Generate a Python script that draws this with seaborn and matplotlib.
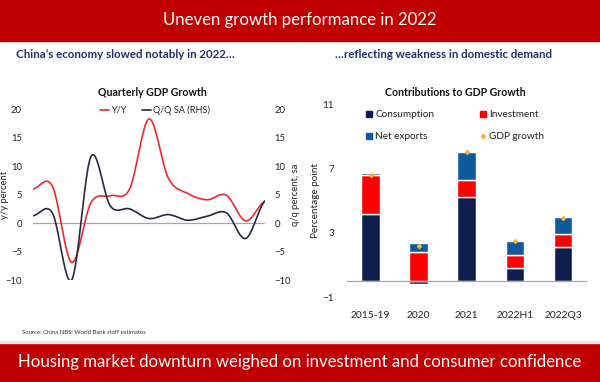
import numpy as np
import pandas as pd
import matplotlib
matplotlib.use("Agg")
import matplotlib.pyplot as plt
from matplotlib.lines import Line2D
import seaborn as sns

# chart data
quarters = ["Sep-19", "Dec-19", "Mar-20", "Jun-20", "Sep-20", "Dec-20", "Mar-21",
            "Jun-21", "Sep-21", "Dec-21", "Mar-22", "Jun-22", "Sep-22"]
yoy = [6.0, 6.5, -6.9, 3.6, 4.8, 6.0, 18.3, 7.9, 5.2, 4.1, 4.9, 0.4, 3.9]
qoq = [1.3, 1.8, -10.0, 11.7, 3.0, 2.5, 0.8, 1.5, 0.5, 1.2, 1.8, -2.7, 3.9]
tick_quarters = ["Sep-19", "Mar-20", "Sep-20", "Mar-21", "Sep-21", "Mar-22", "Sep-22"]

periods = ["2015-19", "2020", "2021", "2022H1", "2022Q3"]
consumption = [4.2, -0.2, 5.2, 0.8, 2.1]
investment = [2.4, 1.8, 1.1, 0.8, 0.8]
net_exports = [0.1, 0.6, 1.7, 0.9, 1.1]
gdp_growth = [6.6, 2.2, 8.0, 2.5, 3.9]

# colours
BANNER = "#C00000"
NAVY_TXT = "#1F2F6B"
C_CONS = "#0B1F4A"
C_INV = "#FF0000"
C_NET = "#0F5A9A"
C_GDP = "#F9B233"

sns.set_theme(style="white")
plt.rcParams["font.family"] = ["Lato", "DejaVu Sans"]

W, H = 600, 382
fig = plt.figure(figsize=(W / 100, H / 100), dpi=100)


def px(x, y):
    # pixel position -> figure fraction
    return x / W, 1 - y / H


def smooth(y, n=24):
    # Excel style smoothed line (Catmull-Rom between the points)
    y = np.asarray(y, float)
    p = np.concatenate([[y[0]], y, [y[-1]]])
    xs, ys = [], []
    t = np.linspace(0, 1, n, endpoint=False)
    for i in range(len(y) - 1):
        p0, p1, p2, p3 = p[i], p[i + 1], p[i + 2], p[i + 3]
        seg = 0.5 * ((2 * p1) + (-p0 + p2) * t + (2 * p0 - 5 * p1 + 4 * p2 - p3) * t ** 2
                     + (-p0 + 3 * p1 - 3 * p2 + p3) * t ** 3)
        xs.append(i + t)
        ys.append(seg)
    xs.append([len(y) - 1])
    ys.append([y[-1]])
    return np.concatenate(xs), np.concatenate(ys)


# banners
fig.patches.append(plt.Rectangle(px(0, 41), 1, 41 / H, transform=fig.transFigure,
                                 color=BANNER, zorder=0))
fig.patches.append(plt.Rectangle((0, 0), 1, 39 / H, transform=fig.transFigure,
                                 color=BANNER, zorder=0))
fig.patches.append(plt.Rectangle((0, 39 / H), 1, 2 / H, transform=fig.transFigure,
                                 color="#E6E6E6", zorder=0))
fig.text(*px(300, 20), "Uneven growth performance in 2022", color="white",
         fontsize=12.1, ha="center", va="center")
fig.text(*px(300, 362), "Housing market downturn weighed on investment and consumer confidence",
         color="white", fontsize=12.1, ha="center", va="center")

# section headings
fig.text(*px(16, 55), "China\u2019s economy slowed notably in 2022\u2026", color=NAVY_TXT,
         fontsize=8.3, fontweight="bold", ha="left", va="center")
fig.text(*px(335, 55), "\u2026reflecting weakness in domestic demand", color=NAVY_TXT,
         fontsize=8.3, fontweight="bold", ha="left", va="center")
fig.text(*px(22, 332), "Source: China NBS; World Bank staff estimates", color="#333333",
         fontsize=4.3, ha="left", va="center")

# ---------------- left chart: quarterly GDP growth ----------------
ax1 = fig.add_axes([33 / W, 1 - 280 / H, 232 / W, 170.7 / H])
ax2 = ax1.twinx()

xs, ys = smooth(yoy)
_, qs = smooth(qoq)
curves = pd.DataFrame({"x": xs, "yoy": ys, "qoq": qs})

ax1.axhline(0, color="#A6A6A6", lw=0.9, zorder=1)
sns.lineplot(data=curves, x="x", y="yoy", ax=ax1, color="#F2282B", lw=1.2, zorder=3)
sns.lineplot(data=curves, x="x", y="qoq", ax=ax2, color="#232B3E", lw=1.2, zorder=3)

for a in (ax1, ax2):
    a.set_ylim(-10, 20)
    a.set_yticks([-10, -5, 0, 5, 10, 15, 20])
    a.set_xlim(0, len(quarters) - 1)
    for s in a.spines.values():
        s.set_visible(False)
    a.tick_params(axis="y", length=0, labelsize=6.8, colors="#222222", pad=8)
    a.set_xlabel("")
ax1.set_ylabel("y/y percent", fontsize=6.8, color="#222222")
ax1.yaxis.set_label_coords(-0.105, 0.5)
ax2.set_ylabel("q/q percent, sa", fontsize=6.8, color="#222222")
ax2.yaxis.set_label_coords(1.11, 0.5)
ax2.tick_params(axis="y", pad=7)

tick_pos = [quarters.index(q) for q in tick_quarters]
ax1.set_xticks(tick_pos)
ax1.set_xticklabels(tick_quarters, rotation=45, ha="right", rotation_mode="anchor",
                    fontsize=6.6, color="#222222")
ax1.tick_params(axis="x", length=0, pad=12)
ax2.set_xticks([])

fig.text(*px(152, 92), "Quarterly GDP Growth", fontsize=7.6, fontweight="bold",
         ha="center", va="center", color="#111111")
h1 = [Line2D([], [], color="#F2282B", lw=1.2), Line2D([], [], color="#232B3E", lw=1.2)]
ax1.legend(h1, ["Y/Y", "Q/Q SA (RHS)"], ncol=2, frameon=False, fontsize=6.6,
           loc="center", bbox_to_anchor=(0.527, 0.995), handlelength=1.0,
           handletextpad=0.2, columnspacing=1.7, labelcolor="#222222")

# ---------------- right chart: contributions ----------------
ax3 = fig.add_axes([346.7 / W, 1 - 297.3 / H, 240.3 / W, 193.3 / H])

bars = pd.DataFrame({"period": periods, "cons": consumption, "inv": investment,
                     "net": net_exports, "gdp": gdp_growth})
bars["inv_base"] = bars["cons"].clip(lower=0)
bars["net_base"] = bars["inv_base"] + bars["inv"]

sns.barplot(data=bars, x="period", y="cons", color=C_CONS, width=0.39, ax=ax3,
            saturation=1, zorder=2)
sns.barplot(data=bars, x="period", y="inv", bottom=bars["inv_base"], color=C_INV,
            width=0.39, ax=ax3, saturation=1, zorder=2)
sns.barplot(data=bars, x="period", y="net", bottom=bars["net_base"], color=C_NET,
            width=0.39, ax=ax3, saturation=1, zorder=2)
sns.scatterplot(data=bars, x="period", y="gdp", ax=ax3, color=C_GDP, marker="D",
                s=9, linewidth=0, zorder=4)
ax3.axhline(0, color="#A6A6A6", lw=0.9, zorder=3)

ax3.set_ylim(-1, 11)
ax3.set_yticks([-1, 3, 7, 11])
ax3.set_xlim(-0.5, 4.5)
for s in ax3.spines.values():
    s.set_visible(False)
ax3.tick_params(axis="y", length=0, labelsize=7.2, colors="#222222", pad=9)
ax3.tick_params(axis="x", length=0, labelsize=7.4, colors="#222222", pad=10)
ax3.set_xlabel("")
ax3.set_ylabel("Percentage point", fontsize=7.2, color="#222222")
ax3.yaxis.set_label_coords(-0.112, 0.5)

fig.text(*px(455, 92), "Contributions to GDP Growth", fontsize=7.6, fontweight="bold",
         ha="center", va="center", color="#111111")
h3 = [Line2D([], [], ls="", marker="s", ms=4.2, color=C_CONS),
      Line2D([], [], ls="", marker="s", ms=4.2, color=C_NET),
      Line2D([], [], ls="", marker="s", ms=4.2, color=C_INV),
      Line2D([], [], ls="", marker="D", ms=2.2, color=C_GDP)]
fig.legend(h3, ["Consumption", "Net exports", "Investment", "GDP growth"], ncol=2,
           frameon=False, fontsize=7.2, loc="upper left",
           bbox_to_anchor=px(366, 110), handlelength=0.6, handletextpad=0.3,
           columnspacing=4.6, labelspacing=1.3, labelcolor="#222222",
           borderpad=0, borderaxespad=0)

fig.savefig("out.png", dpi=100)
